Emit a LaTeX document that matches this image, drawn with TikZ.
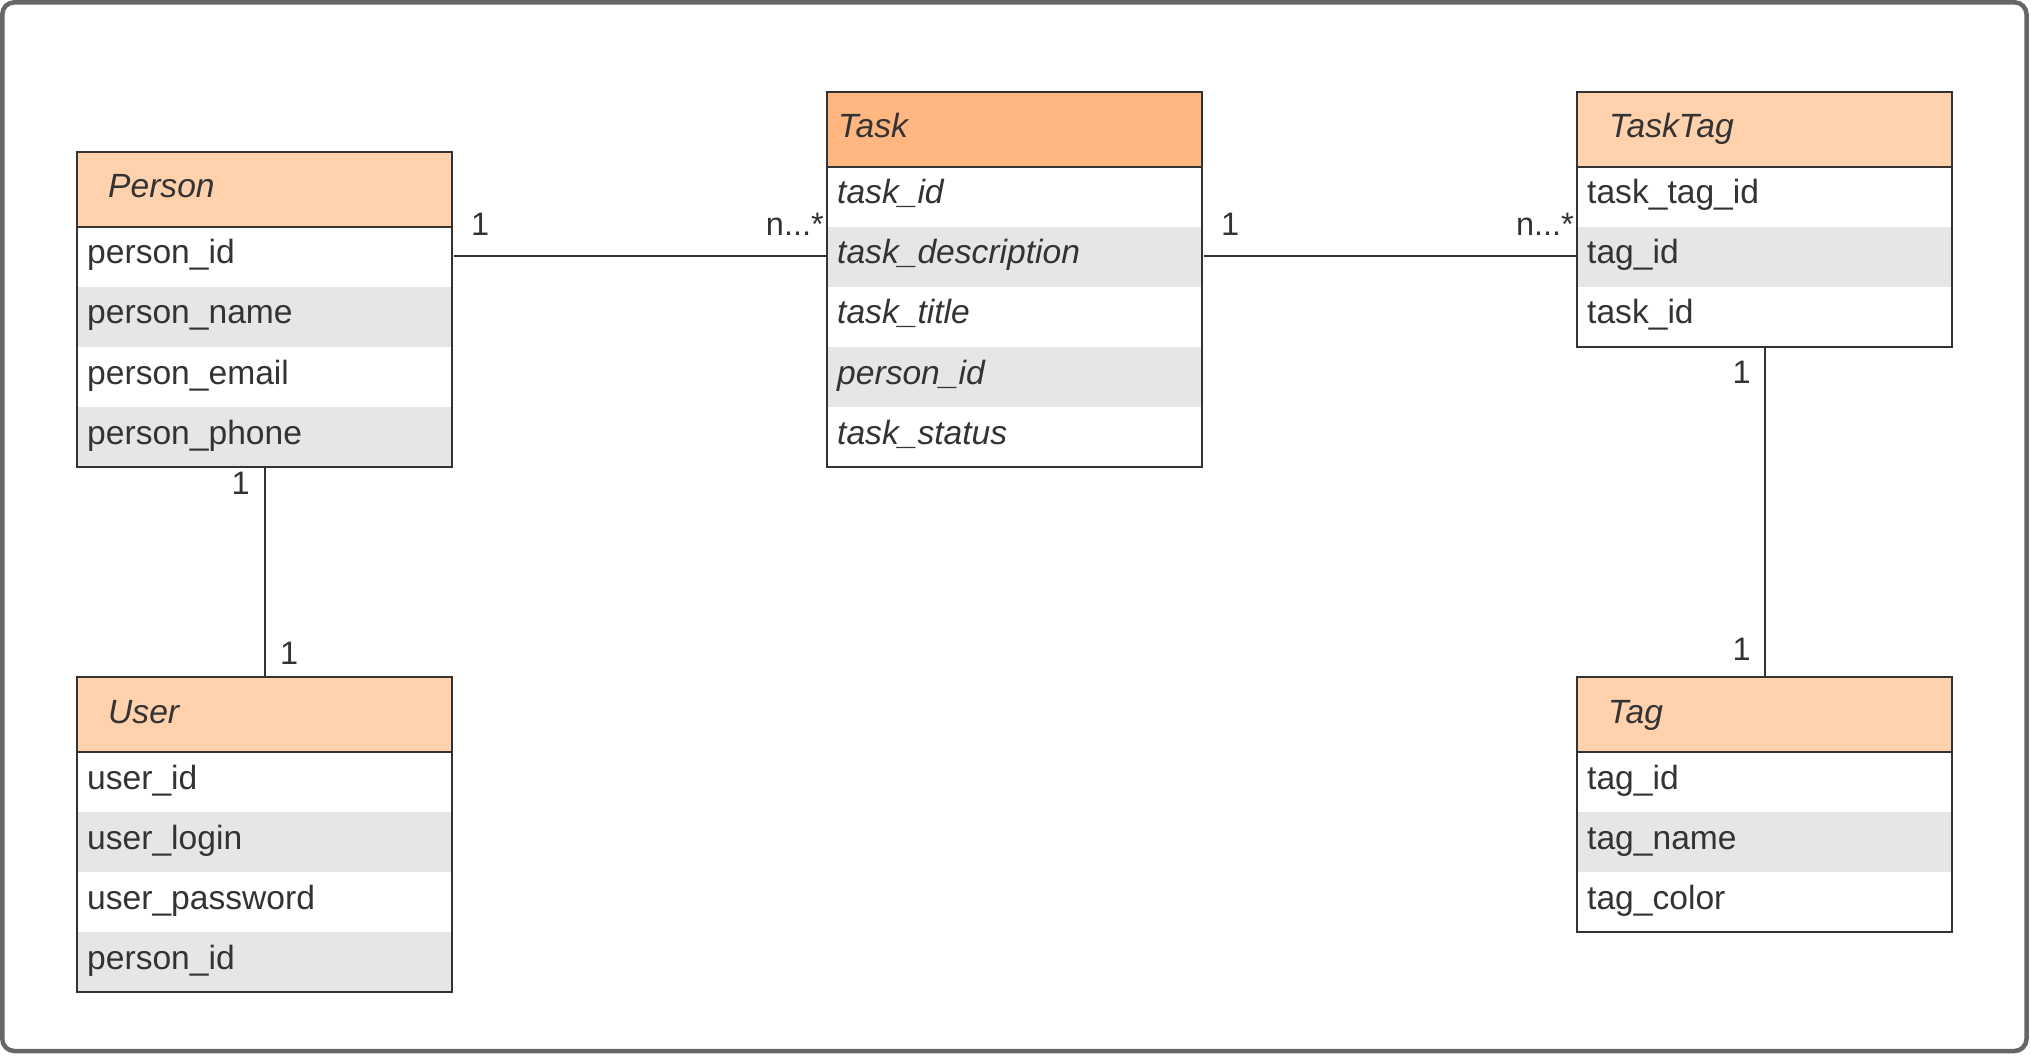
\documentclass[tikz,border=0pt]{standalone}
\usepackage{fontspec}
\setmainfont{Liberation Sans}
\usetikzlibrary{calc}
\definecolor{hdrlight}{HTML}{FFD1AC}
\definecolor{hdrdark}{HTML}{FFB681}
\definecolor{rowgray}{HTML}{E6E6E6}
\definecolor{ink}{HTML}{333333}
\definecolor{framegray}{HTML}{666666}
\tikzset{
  cell/.style={rectangle, inner sep=0pt, outer sep=0pt, minimum width=375pt, anchor=north west},
  hdrL/.style={cell, minimum height=75pt, fill=hdrlight},
  hdrD/.style={cell, minimum height=75pt, fill=hdrdark},
  rowW/.style={cell, minimum height=60pt, fill=white},
  rowG/.style={cell, minimum height=60pt, fill=rowgray},
  txt/.style={anchor=base west, inner sep=0pt, text=ink, font=\fontsize{33.6}{40}\selectfont},
  itxt/.style={txt, font=\fontsize{33.6}{40}\selectfont\itshape},
  mult/.style={inner sep=0pt, text=ink, font=\fontsize{32.5}{38}\selectfont},
  boxline/.style={draw=ink, line width=2pt},
  conn/.style={draw=ink, line width=2pt},
}
\newcommand\errow[6]{%
  \node[#4] (#1) at (#2,#3) {};
  \node[#5] (#1t) at (#2+10,#3+37) {#6};}
\begin{document}
\begin{tikzpicture}[x=1pt,y=-1pt]
\useasboundingbox (0,0) rectangle (2031,1056);
\fill[white] (0,0) rectangle (2031,1056);
\draw[framegray, line width=4.5pt, rounded corners=12pt] (2.3,2.3) rectangle (2026.5,1051);

% Person
\node[hdrL] (Ph) at (77,152) {};
\node[itxt] (Pht) at (108,198) {Person};
\errow{P1}{77}{227}{rowW}{txt}{person\_id}
\errow{P2}{77}{287}{rowG}{txt}{person\_name}
\errow{P3}{77}{347}{rowW}{txt}{person\_email}
\errow{P4}{77}{407}{rowG}{txt}{person\_phone}
\draw[boxline] (Ph.north west) rectangle (P4.south east);
\draw[boxline] (Ph.south west) -- (Ph.south east);

% Task
\node[hdrD] (Th) at (827,92) {};
\node[itxt] (Tht) at (838,138) {Task};
\errow{T1}{827}{167}{rowW}{itxt}{task\_id}
\errow{T2}{827}{227}{rowG}{itxt}{task\_description}
\errow{T3}{827}{287}{rowW}{itxt}{task\_title}
\errow{T4}{827}{347}{rowG}{itxt}{person\_id}
\errow{T5}{827}{407}{rowW}{itxt}{task\_status}
\draw[boxline] (Th.north west) rectangle (T5.south east);
\draw[boxline] (Th.south west) -- (Th.south east);

% TaskTag
\node[hdrL] (TTh) at (1577,92) {};
\node[itxt] (TTht) at (1609,138) {TaskTag};
\errow{TT1}{1577}{167}{rowW}{txt}{task\_tag\_id}
\errow{TT2}{1577}{227}{rowG}{txt}{tag\_id}
\errow{TT3}{1577}{287}{rowW}{txt}{task\_id}
\draw[boxline] (TTh.north west) rectangle (TT3.south east);
\draw[boxline] (TTh.south west) -- (TTh.south east);

% User
\node[hdrL] (Uh) at (77,677) {};
\node[itxt] (Uht) at (108,723) {User};
\errow{U1}{77}{752}{rowW}{txt}{user\_id}
\errow{U2}{77}{812}{rowG}{txt}{user\_login}
\errow{U3}{77}{872}{rowW}{txt}{user\_password}
\errow{U4}{77}{932}{rowG}{txt}{person\_id}
\draw[boxline] (Uh.north west) rectangle (U4.south east);
\draw[boxline] (Uh.south west) -- (Uh.south east);

% Tag
\node[hdrL] (Gh) at (1577,677) {};
\node[itxt] (Ght) at (1608,723) {Tag};
\errow{G1}{1577}{752}{rowW}{txt}{tag\_id}
\errow{G2}{1577}{812}{rowG}{txt}{tag\_name}
\errow{G3}{1577}{872}{rowW}{txt}{tag\_color}
\draw[boxline] (Gh.north west) rectangle (G3.south east);
\draw[boxline] (Gh.south west) -- (Gh.south east);

% connectors
\draw[conn] ([xshift=2pt,yshift=1pt]P1.east) -- ([yshift=1pt]T2.west);
\draw[conn] ([xshift=2pt,yshift=1pt]T2.east) -- ([yshift=1pt]TT2.west);
\draw[conn] (P4.south) -- (Uh.north);
\draw[conn] (TT3.south) -- (Gh.north);

% multiplicities
\node[mult, anchor=base west] (m1) at (471,236) {1};
\node[mult, anchor=base east] (m2) at (824,236) {n...*};
\node[mult, anchor=base west] (m3) at (1221,236) {1};
\node[mult, anchor=base east] (m4) at (1574,236) {n...*};
\node[mult, anchor=base east] (m5) at (250,494) {1};
\node[mult, anchor=base west] (m6) at (280,664) {1};
\node[mult, anchor=base east] (m7) at (1751,383) {1};
\node[mult, anchor=base east] (m8) at (1751,660) {1};
\end{tikzpicture}
\end{document}
